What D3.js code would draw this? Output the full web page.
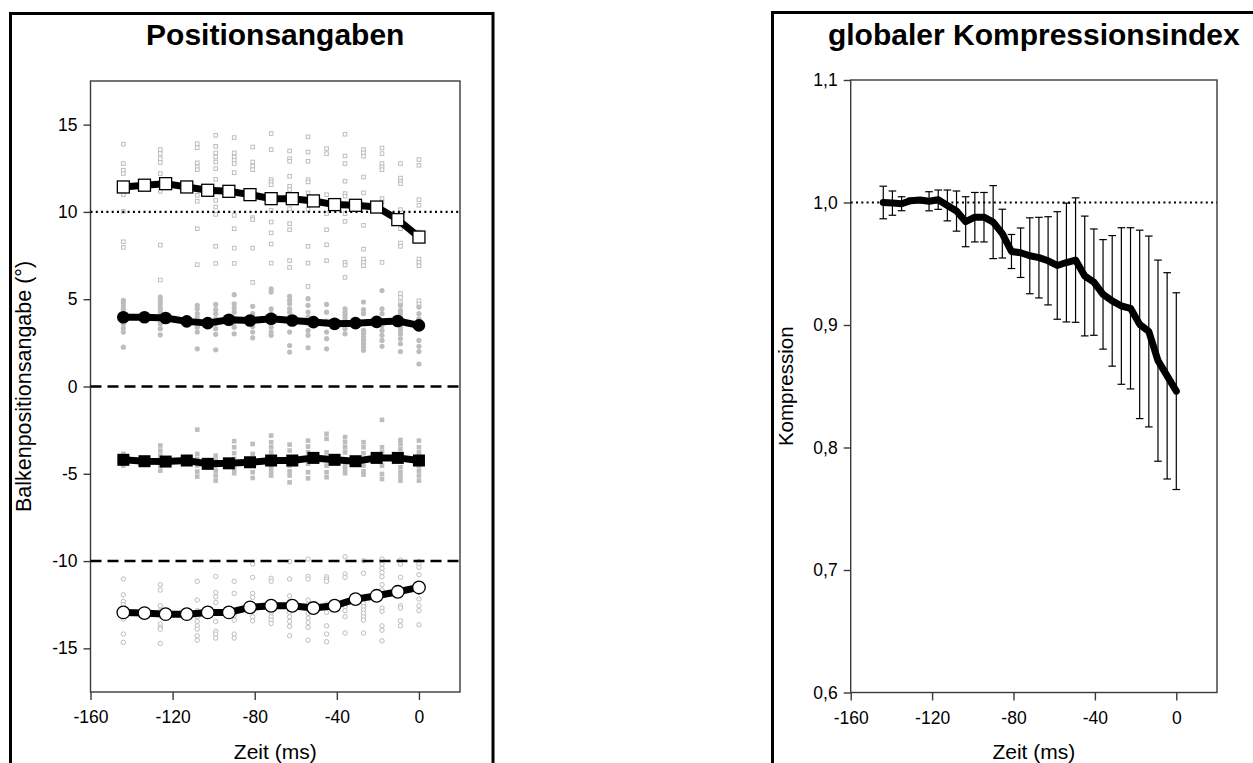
<!DOCTYPE html>
<html>
<head>
<meta charset="utf-8">
<script src="https://cdn.jsdelivr.net/npm/d3@7"></script>
<style>
  body { margin: 0; background: #fff; }
  svg { display: block; font-family: "Liberation Sans", Arial, sans-serif; }
</style>
</head>
<body>
<svg id="chart" width="1253" height="763"></svg>
<script>
// ---------- Positionsangaben: group means (frame times, ms) ----------
const meanTimes = [-144, -133.7, -123.4, -113.1, -102.9, -92.6, -82.3, -72, -61.7, -51.4, -41.1, -30.9, -20.6, -10.3, 0];
const outerUpperMeans = [11.43, 11.53, 11.62, 11.43, 11.24, 11.18, 10.99, 10.76, 10.76, 10.63, 10.42, 10.38, 10.28, 9.56, 8.56];
const innerUpperMeans = [3.97, 3.97, 3.92, 3.73, 3.63, 3.82, 3.78, 3.88, 3.78, 3.69, 3.59, 3.63, 3.70, 3.75, 3.50];
const innerLowerMeans = [-4.20, -4.28, -4.30, -4.24, -4.43, -4.40, -4.34, -4.24, -4.24, -4.09, -4.20, -4.28, -4.09, -4.09, -4.24];
const outerLowerMeans = [-12.94, -12.98, -13.04, -13.04, -12.94, -12.94, -12.65, -12.56, -12.56, -12.69, -12.56, -12.18, -11.99, -11.76, -11.51];

// ---------- Positionsangaben: single-subject estimates per time column ----------
const subjectTimes = [-144, -126, -108, -99, -90, -81, -72, -63, -54, -45, -36, -27, -18, -9, 0];
const outerUpperSubjects = [
  [13.88, 12.77, 12.39, 12.20, 11.40, 10.99, 10.03, 8.29, 7.97],
  [13.57, 13.34, 13.05, 12.83, 12.20, 11.18, 8.10, 6.10],
  [13.91, 13.68, 12.81, 12.58, 12.42, 10.95, 10.61, 9.04, 6.98],
  [14.39, 13.76, 13.38, 13.15, 12.86, 12.48, 11.87, 10.66, 10.28, 9.86, 8.03, 7.05],
  [14.26, 13.38, 13.15, 12.96, 12.77, 12.25, 9.80, 9.04, 7.93, 7.05],
  [13.72, 12.86, 12.61, 12.42, 9.67, 9.56, 7.93, 5.96],
  [14.49, 13.57, 11.85, 11.72, 11.56, 10.09, 9.42, 8.80, 8.16, 7.07],
  [13.49, 13.05, 12.90, 12.04, 11.47, 11.28, 10.19, 9.33, 8.98, 7.21, 6.82],
  [14.30, 13.43, 12.90, 11.85, 11.72, 11.09, 10.15, 8.03, 7.07, 5.73],
  [13.63, 13.34, 10.99, 9.90, 8.98, 8.12, 7.21],
  [14.45, 13.21, 12.77, 11.76, 11.05, 10.90, 9.90, 9.46, 7.11, 6.96, 6.25],
  [13.57, 13.38, 13.19, 12.00, 11.09, 9.23, 7.87, 7.30, 7.11, 6.92],
  [13.66, 13.34, 12.77, 12.58, 12.42, 10.76, 10.57, 7.11],
  [12.77, 11.94, 11.76, 11.62, 10.13, 9.04, 8.22, 8.03, 5.33, 5.10, 4.80],
  [13.00, 12.67, 10.70, 10.38, 8.85, 7.30, 7.11, 6.92, 4.91, 4.72]
];
const innerUpperSubjects = [
  [4.93, 4.78, 4.61, 4.42, 4.17, 3.95, 3.60, 3.35, 3.12, 2.25],
  [5.12, 4.93, 4.74, 4.55, 4.36, 4.17, 3.88, 3.60, 3.31, 2.96],
  [4.65, 4.45, 4.17, 3.94, 3.69, 3.40, 3.12, 2.16],
  [4.70, 4.40, 4.17, 3.88, 3.60, 3.31, 2.99, 2.10],
  [5.26, 4.74, 4.49, 4.26, 3.90, 3.69, 3.40, 3.02],
  [4.59, 4.17, 3.85, 3.44, 3.12, 2.79],
  [5.60, 5.41, 4.45, 4.17, 3.94, 3.40, 3.12, 2.93],
  [5.16, 4.93, 4.74, 4.45, 4.26, 3.97, 3.60, 3.12, 2.35, 1.97],
  [5.03, 4.65, 4.26, 3.97, 3.60, 3.21, 2.93, 2.22],
  [4.70, 4.26, 3.75, 3.12, 2.74, 2.16],
  [4.45, 4.26, 4.07, 3.88, 3.60, 3.31, 3.02],
  [4.84, 4.40, 4.17, 3.21, 3.02, 2.83, 2.64, 2.45, 2.26, 2.07],
  [5.50, 4.45, 4.17, 3.50, 3.21, 2.93, 2.64, 2.30],
  [4.65, 4.36, 4.17, 3.40, 3.21, 3.02, 2.74, 2.45, 2.00],
  [4.55, 4.17, 3.88, 3.69, 2.64, 2.30, 2.00, 1.29]
];
const innerLowerSubjects = [
  [-3.86, -4.15, -4.53],
  [-3.38, -3.67, -3.96, -4.24, -4.53, -4.82],
  [-2.47, -3.86, -4.15, -4.53, -4.87, -5.16],
  [-3.96, -4.24, -4.53, -4.82, -5.10, -5.39],
  [-3.13, -3.48, -3.82, -4.15, -4.72, -4.97],
  [-3.29, -3.86, -4.15, -4.53, -4.91, -5.24],
  [-2.81, -3.19, -3.48, -3.77, -4.63, -4.86, -5.10],
  [-3.33, -3.67, -4.53, -4.86, -5.10, -5.49],
  [-3.10, -3.44, -3.77, -4.43, -4.91, -5.26],
  [-2.71, -3.00, -3.77, -4.53, -4.91, -5.20],
  [-2.90, -3.19, -3.48, -3.77, -4.53, -4.72, -4.97],
  [-3.19, -3.48, -3.82, -4.53, -4.86, -5.05],
  [-1.91, -3.48, -3.77, -4.53, -5.01, -5.30],
  [-3.06, -3.29, -3.57, -3.86, -4.63, -4.91, -5.16, -5.39],
  [-3.10, -3.48, -3.77, -3.96, -4.53, -4.82, -5.10, -5.39]
];
const outerLowerSubjects = [
  [-11.03, -11.93, -12.31, -12.50, -13.32, -14.18, -14.66],
  [-11.35, -11.66, -12.56, -12.84, -13.61, -13.80, -13.90, -14.72],
  [-11.16, -12.23, -12.84, -13.19, -13.46, -13.71, -13.90, -14.28, -14.53],
  [-10.88, -11.80, -12.05, -12.37, -13.46, -14.03, -14.18, -14.41],
  [-11.16, -11.85, -13.13, -13.38, -14.18, -14.41],
  [-10.17, -10.93, -11.85, -12.08, -12.84, -13.19, -13.42],
  [-10.99, -11.16, -12.56, -12.94, -13.19, -13.38, -13.57],
  [-10.02, -11.03, -11.99, -12.31, -12.94, -13.19, -13.46, -13.74, -14.28],
  [-9.88, -10.88, -11.03, -12.23, -12.50, -13.00, -13.27, -13.52, -13.80, -14.53],
  [-10.90, -11.03, -11.16, -12.46, -12.94, -13.71, -14.18, -14.62],
  [-9.75, -10.74, -10.93, -12.61, -12.84, -13.19, -14.12],
  [-9.98, -10.70, -12.42, -12.61, -12.80, -12.99, -13.19, -13.38, -14.12],
  [-9.88, -10.17, -10.42, -10.65, -10.90, -11.35, -11.66, -12.69, -12.88, -13.71, -13.96, -14.57],
  [-9.94, -10.17, -10.93, -11.74, -12.56, -12.69, -13.42, -13.71],
  [-10.02, -10.17, -10.36, -10.78, -11.41, -11.80, -12.18, -12.56, -12.84, -13.65]
];
const positionTicks = [15, 10, 5, 0, -5, -10, -15];
const timeTicks = [-160, -120, -80, -40, 0];

// ---------- globaler Kompressionsindex ----------
const compressionTimes = [-144, -139.5, -135, -130.5, -126, -121.5, -117, -112.5, -108, -103.5, -99, -94.5, -90, -85.5, -81, -76.5,
  -72, -67.5, -63, -58.5, -54, -49.5, -45, -40.5, -36, -31.5, -27, -22.5, -18, -13.5, -9, -4.5, 0];
const compressionMeans = [1.000, 0.9995, 0.999, 1.0015, 1.002, 1.001, 1.0023, 0.9976, 0.993, 0.9843, 0.988, 0.988, 0.984, 0.9746,
  0.960, 0.959, 0.9565, 0.955, 0.9524, 0.9486, 0.951, 0.953, 0.940, 0.935, 0.925, 0.9197, 0.9155, 0.9136, 0.9005, 0.8947, 0.8709, 0.8585, 0.846];
const compressionErrors = [0.0133, 0.0099, 0.0057, 0.002, 0.002, 0.0078, 0.0079, 0.0126, 0.0164, 0.0204, 0.0202, 0.0202, 0.0298, 0.0199,
  0.0139, 0.0202, 0.031, 0.0329, 0.036, 0.0439, 0.0485, 0.0508, 0.0489, 0.0434, 0.0447, 0.0533, 0.0639, 0.0658, 0.0769, 0.0779, 0.0821, 0.0842, 0.0803];
const compressionTicks = [1.1, 1.0, 0.9, 0.8, 0.7, 0.6];

const svg = d3.select("#chart");
const GRAY = "#bdbdbd";
const AXIS = "#3a3a3a";
const deFormat = d => d3.format(".1f")(d).replace(".", ",");

// outer panel frames
svg.append("rect").attr("x", 10.5).attr("y", 13.5).attr("width", 482.5).attr("height", 800)
  .attr("fill", "none").attr("stroke", "#000").attr("stroke-width", 3);
svg.append("rect").attr("x", 772.5).attr("y", 12.5).attr("width", 600).attr("height", 800)
  .attr("fill", "none").attr("stroke", "#000").attr("stroke-width", 3);

function drawFrame(g, x, y, title, yTitle, yTitleX, yTickFormat, yTicks) {
  const [x0, x1] = x.range();
  const [y0, y1] = y.range();
  g.append("rect").attr("x", x0).attr("y", y1).attr("width", x1 - x0).attr("height", y0 - y1)
    .attr("fill", "none").attr("stroke", AXIS).attr("stroke-width", 1.4);

  const xAxis = g.append("g").attr("transform", `translate(0,${y0})`)
    .call(d3.axisBottom(x).tickValues(timeTicks).tickSize(8).tickPadding(11).tickFormat(d3.format("d")));
  const yAxis = g.append("g").attr("transform", `translate(${x0},0)`)
    .call(d3.axisLeft(y).tickValues(yTicks).tickSize(7).tickPadding(6).tickFormat(yTickFormat));
  [xAxis, yAxis].forEach(a => {
    a.select(".domain").remove();
    a.selectAll(".tick line").attr("stroke", AXIS).attr("stroke-width", 1.4);
    a.selectAll(".tick text").attr("fill", "#000").style("font-size", "17.5px").style("font-family", "Liberation Sans, Arial, sans-serif");
  });
  xAxis.selectAll(".tick text").text(d => d3.format("d")(d).replace("−", "-"));
  yAxis.selectAll(".tick text").text(d => yTickFormat(d).replace("−", "-"));

  g.append("text").attr("x", (x0 + x1) / 2).attr("y", 45).attr("text-anchor", "middle")
    .style("font-size", "30px").style("font-weight", "bold").text(title);
  g.append("text").attr("x", (x0 + x1) / 2).attr("y", 759).attr("text-anchor", "middle")
    .style("font-size", "21px").text("Zeit (ms)");
  g.append("text").attr("transform", `translate(${yTitleX},${(y0 + y1) / 2}) rotate(-90)`)
    .attr("text-anchor", "middle").style("font-size", yTitle.size).text(yTitle.text);
}

// ---------- left panel ----------
const xL = d3.scaleLinear().domain([-160, 20]).range([90.5, 460]);
const yL = d3.scaleLinear().domain([-17.5, 17.5]).range([692, 81]);
const left = svg.append("g");
drawFrame(left, xL, yL, "Positionsangaben", { text: "Balkenpositionsangabe (°)", size: "21.5px" }, 31,
  d => String(d), positionTicks);

function subjectPoints(series) {
  return series.flatMap((col, i) => col.map(v => ({ t: subjectTimes[i], v })));
}
const scatter = left.append("g");
scatter.selectAll(".ou").data(subjectPoints(outerUpperSubjects)).join("rect")
  .attr("x", d => xL(d.t) - 1.8).attr("y", d => yL(d.v) - 1.8).attr("width", 3.6).attr("height", 3.6)
  .attr("fill", "#fff").attr("stroke", GRAY).attr("stroke-width", 1);
scatter.selectAll(".iu").data(subjectPoints(innerUpperSubjects)).join("circle")
  .attr("cx", d => xL(d.t)).attr("cy", d => yL(d.v)).attr("r", 2.6).attr("fill", GRAY);
scatter.selectAll(".il").data(subjectPoints(innerLowerSubjects)).join("rect")
  .attr("x", d => xL(d.t) - 2.3).attr("y", d => yL(d.v) - 2.3).attr("width", 4.6).attr("height", 4.6)
  .attr("fill", GRAY);
scatter.selectAll(".ol").data(subjectPoints(outerLowerSubjects)).join("circle")
  .attr("cx", d => xL(d.t)).attr("cy", d => yL(d.v)).attr("r", 2.2)
  .attr("fill", "#fff").attr("stroke", GRAY).attr("stroke-width", 1);

// reference lines
left.append("line").attr("x1", xL(-160)).attr("x2", xL(20)).attr("y1", yL(10)).attr("y2", yL(10))
  .attr("stroke", "#000").attr("stroke-width", 2.2).attr("stroke-dasharray", "2,3.3");
[0, -10].forEach(v => {
  left.append("line").attr("x1", xL(-160)).attr("x2", xL(20)).attr("y1", yL(v)).attr("y2", yL(v))
    .attr("stroke", "#000").attr("stroke-width", 2.6).attr("stroke-dasharray", "11,6");
});

// mean curves
const meanLine = d3.line().x((d, i) => xL(meanTimes[i])).y(d => yL(d));
[outerUpperMeans, innerUpperMeans, innerLowerMeans, outerLowerMeans].forEach(s => {
  left.append("path").attr("d", meanLine(s)).attr("fill", "none").attr("stroke", "#000")
    .attr("stroke-width", 7).attr("stroke-linejoin", "round");
});
const md = s => s.map((v, i) => ({ t: meanTimes[i], v }));
left.selectAll(".mou").data(md(outerUpperMeans)).join("rect")
  .attr("x", d => xL(d.t) - 6).attr("y", d => yL(d.v) - 6).attr("width", 12).attr("height", 12)
  .attr("fill", "#fff").attr("stroke", "#000").attr("stroke-width", 1.3);
left.selectAll(".miu").data(md(innerUpperMeans)).join("circle")
  .attr("cx", d => xL(d.t)).attr("cy", d => yL(d.v)).attr("r", 6.3).attr("fill", "#000");
left.selectAll(".mil").data(md(innerLowerMeans)).join("rect")
  .attr("x", d => xL(d.t) - 6).attr("y", d => yL(d.v) - 6).attr("width", 12).attr("height", 12).attr("fill", "#000");
left.selectAll(".mol").data(md(outerLowerMeans)).join("circle")
  .attr("cx", d => xL(d.t)).attr("cy", d => yL(d.v)).attr("r", 6.3)
  .attr("fill", "#fff").attr("stroke", "#000").attr("stroke-width", 1.3);

// ---------- right panel ----------
const xR = d3.scaleLinear().domain([-160, 20]).range([850.7, 1217]);
const yR = d3.scaleLinear().domain([0.6, 1.1]).range([692.5, 80]);
const right = svg.append("g");
drawFrame(right, xR, yR, "globaler Kompressionsindex", { text: "Kompression", size: "20.5px" }, 793,
  deFormat, compressionTicks);

right.append("line").attr("x1", xR(-160)).attr("x2", xR(20)).attr("y1", yR(1)).attr("y2", yR(1))
  .attr("stroke", "#000").attr("stroke-width", 2.2).attr("stroke-dasharray", "2,3.3");

const bars = compressionTimes.map((t, i) => ({ t, m: compressionMeans[i], e: compressionErrors[i] }));
const eb = right.append("g").attr("stroke", "#000").attr("stroke-width", 1.2);
eb.selectAll(".v").data(bars).join("line")
  .attr("x1", d => xR(d.t)).attr("x2", d => xR(d.t)).attr("y1", d => yR(d.m - d.e)).attr("y2", d => yR(d.m + d.e));
eb.selectAll(".top").data(bars).join("line")
  .attr("x1", d => xR(d.t) - 3.8).attr("x2", d => xR(d.t) + 3.8).attr("y1", d => yR(d.m + d.e)).attr("y2", d => yR(d.m + d.e));
eb.selectAll(".bot").data(bars).join("line")
  .attr("x1", d => xR(d.t) - 3.8).attr("x2", d => xR(d.t) + 3.8).attr("y1", d => yR(d.m - d.e)).attr("y2", d => yR(d.m - d.e));

right.append("path")
  .attr("d", d3.line().x(d => xR(d.t)).y(d => yR(d.m))(bars))
  .attr("fill", "none").attr("stroke", "#000").attr("stroke-width", 7)
  .attr("stroke-linejoin", "round").attr("stroke-linecap", "round");
</script>
</body>
</html>
